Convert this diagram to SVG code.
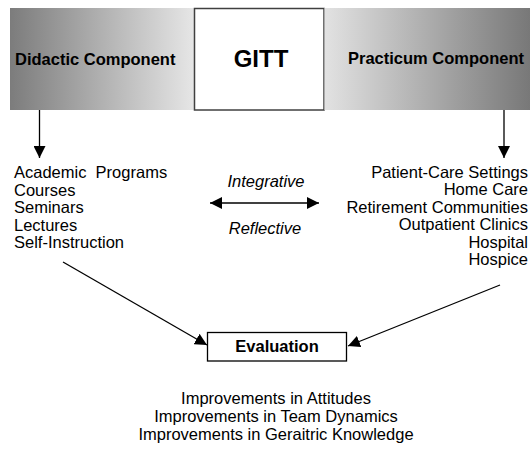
<svg xmlns="http://www.w3.org/2000/svg" width="530" height="451" viewBox="0 0 530 451">
<defs>
<linearGradient id="gl" x1="0" y1="0" x2="1" y2="0">
<stop offset="0" stop-color="#7c7c7c"/>
<stop offset="1" stop-color="#e6e6e6"/>
</linearGradient>
<linearGradient id="gr" x1="0" y1="0" x2="1" y2="0">
<stop offset="0" stop-color="#e2e2e2"/>
<stop offset="1" stop-color="#787878"/>
</linearGradient>
<marker id="ah" viewBox="0 0 12 12" refX="12" refY="6" markerWidth="12" markerHeight="12" markerUnits="userSpaceOnUse" orient="auto-start-reverse">
<path d="M0,0 L12,6 L0,12 Z" fill="#000"/>
</marker>
<style>
text{font-family:"Liberation Sans",Arial,sans-serif;font-size:16.5px;fill:#000}
.b{font-weight:bold}
.i{font-style:italic}
.c{text-anchor:middle}
.r{text-anchor:end}
.ln{stroke:#000;stroke-width:1.3;fill:none}
</style>
</defs>
<rect width="530" height="451" fill="#fff"/>
<g id="didactic">
<rect x="10" y="8" width="184" height="102" fill="url(#gl)"/>
<text x="15" y="65" class="b">Didactic Component</text>
</g>
<g id="gitt">
<rect x="194.5" y="8.5" width="129.5" height="101.5" fill="#fff" stroke="#404040" stroke-width="1.5"/>
<text x="261" y="67" class="b c" style="font-size:24px">GITT</text>
</g>
<g id="practicum">
<rect x="324.5" y="8" width="205.5" height="102" fill="url(#gr)"/>
<text x="348" y="64" class="b">Practicum Component</text>
</g>
<g id="didactic-list">
<text x="14" y="178" xml:space="preserve">Academic  Programs</text>
<text x="14" y="196">Courses</text>
<text x="14" y="213">Seminars</text>
<text x="14" y="231">Lectures</text>
<text x="14" y="248">Self-Instruction</text>
</g>
<g id="practicum-list">
<text x="528" y="178" class="r">Patient-Care Settings</text>
<text x="528" y="195" class="r">Home Care</text>
<text x="528" y="212.5" class="r">Retirement Communities</text>
<text x="528" y="230" class="r">Outpatient Clinics</text>
<text x="528" y="247.5" class="r">Hospital</text>
<text x="528" y="264.5" class="r">Hospice</text>
</g>
<g id="relation">
<text x="266" y="187" class="i c">Integrative</text>
<text x="265" y="234" class="i c">Reflective</text>
</g>
<g id="evaluation">
<rect x="207.5" y="332.5" width="139" height="28.5" fill="#fff" stroke="#000" stroke-width="1.3"/>
<text x="277" y="352" class="b c">Evaluation</text>
</g>
<g id="outcomes">
<text x="276" y="404" class="c">Improvements in Attitudes</text>
<text x="276" y="422" class="c">Improvements in Team Dynamics</text>
<text x="276" y="440" class="c">Improvements in Geraitric Knowledge</text>
</g>
<g id="connectors">
<line x1="39.5" y1="110" x2="39.5" y2="158" class="ln" marker-end="url(#ah)"/>
<line x1="504" y1="110" x2="504" y2="158" class="ln" marker-end="url(#ah)"/>
<line x1="210" y1="203" x2="319" y2="203" class="ln" marker-start="url(#ah)" marker-end="url(#ah)"/>
<line x1="63" y1="262" x2="207" y2="345" class="ln" marker-end="url(#ah)"/>
<line x1="500" y1="285" x2="348" y2="346" class="ln" marker-end="url(#ah)"/>
</g>
</svg>
